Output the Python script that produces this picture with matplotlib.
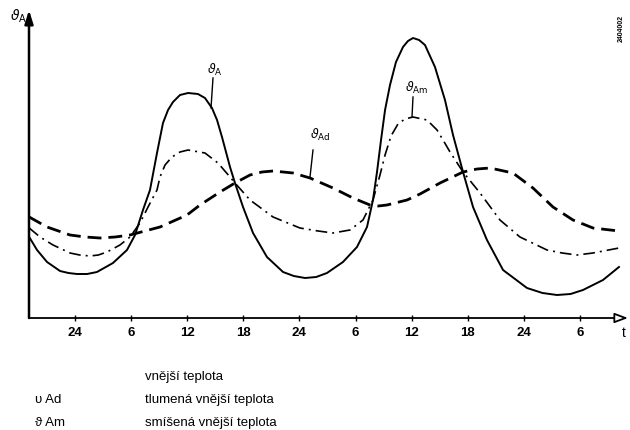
import matplotlib
matplotlib.use("Agg")
import matplotlib.pyplot as plt

plt.rcParams['font.family'] = ['Liberation Sans', 'DejaVu Sans']

# time in hours (0 = first midnight), value = height above time axis
t_A = [-4.9, -4.06, -2.99, -1.60, -0.70, 0.21, 1.30, 2.35, 4.06, 5.56, 6.42, 7.27, 8.02, 8.77,
       9.41, 9.95, 10.48, 11.23, 12.09, 13.15, 13.90, 14.65, 15.19, 15.72, 16.58, 17.11,
       17.97, 19.04, 20.53, 22.25, 23.40, 24.60, 25.80, 26.95, 28.66, 30.16, 31.23, 31.87,
       32.30, 32.73, 33.16, 33.69, 34.33, 35.08, 35.61, 36.15, 36.80, 37.43, 38.50, 39.57,
       40.43, 41.50, 42.57, 44.06, 45.78, 48.34, 50.00, 51.55, 53.00, 54.33, 56.47, 58.18]
v_A = [81, 68, 56, 47, 45, 44, 44, 46, 55, 68, 83, 108, 128, 165,
       195, 208, 216, 223, 225, 224, 220, 210, 198, 181, 151, 135,
       111, 85, 61, 46, 42, 40, 41, 45, 56, 71, 91, 118,
       146, 178, 208, 233, 256, 271, 277, 280, 278, 273, 251, 218,
       183, 146, 111, 78, 48, 30, 25, 23, 24, 28, 38, 51]

t_Am = [-4.9, -3.74, -2.35, -0.53, 0.50, 1.60, 2.50, 3.42, 4.81, 5.88, 6.95, 7.81, 8.77, 9.09,
        9.63, 10.37, 11.23, 12.09, 13.90, 15.29, 16.58, 17.11, 18.72, 21.18, 24.06, 26.00,
        27.59, 29.41, 30.80, 31.87, 32.62, 33.16, 33.80, 34.54, 35.29, 36.15, 37.65, 38.72,
        39.36, 40.11, 41.50, 43.32, 45.45, 47.59, 50.48, 52.10, 53.69, 55.40, 58.18]
v_Am = [90, 81, 73, 65, 63, 62, 63, 66, 73, 81, 95, 111, 128, 141,
        153, 161, 166, 168, 165, 155, 141, 135, 118, 101, 90, 87,
        85, 88, 98, 118, 143, 163, 182, 194, 199, 201, 198, 188,
        178, 166, 146, 125, 98, 81, 68, 65, 63, 65, 70]

t_Ad = [-4.9, -2.99, -0.53, 1.10, 2.67, 4.30, 5.88, 9.09, 11.98, 13.37, 15.51, 17.11, 18.72,
        20.00, 21.18, 23.32, 25.13, 27.59, 29.73, 31.55, 32.45, 33.37, 35.51, 36.90, 39.04,
        41.50, 43.00, 44.39, 46.84, 48.98, 51.12, 53.26, 55.40, 58.18]
v_Ad = [101, 91, 83, 81, 80, 81, 83, 91, 103, 113, 126, 135, 143,
        146, 147, 145, 140, 130, 120, 113, 112, 113, 118, 124, 135,
        146, 149, 150, 145, 130, 111, 98, 90, 87]

tick_pos = [0, 6, 12, 18, 24, 30, 36, 42, 48, 54]
tick_lbl = ['24', '6', '12', '18', '24', '6', '12', '18', '24', '6']

legend_sym = ['', 'υ Ad', 'ϑ Am']
legend_txt = ['vnější teplota', 'tlumená vnější teplota', 'smíšená vnější teplota']

W, H = 630, 430
fig = plt.figure(figsize=(6.3, 4.3), dpi=100)
x0, x1, ytop, yax = 29, 628, 10, 318
ax = fig.add_axes([x0 / W, (H - yax) / H, (x1 - x0) / W, (yax - ytop) / H])
tmin = (x0 - 75) / 9.35
tmax = (x1 - 75) / 9.35
ax.set_xlim(tmin, tmax)
ax.set_ylim(0, yax - ytop)

ax.plot(t_A, v_A, color='black', lw=1.4, solid_joinstyle='round')
ax.plot(t_Am, v_Am, color='black', lw=1.2, dashes=(7, 3, 1.2, 3))
ax.plot(t_Ad, v_Ad, color='black', lw=2.0, dashes=(5, 2.5))

for s in ['top', 'right', 'left', 'bottom']:
    ax.spines[s].set_visible(False)
ax.set_yticks([])
ax.set_xticks(tick_pos)
ax.set_xticklabels(tick_lbl, fontsize=9.5, fontweight='bold')
ax.tick_params(axis='x', direction='inout', length=5, width=1.0, pad=4)

# axes with arrows
ax.annotate('', xy=(1.0, 0), xytext=(0, 0), xycoords='axes fraction',
            arrowprops=dict(arrowstyle='-|>,head_length=0.8,head_width=0.3',
                            lw=1.3, fc='white', ec='black', shrinkA=0, shrinkB=0))
ax.annotate('', xy=(0, 1.0), xytext=(0, 0), xycoords='axes fraction',
            arrowprops=dict(arrowstyle='-|>,head_length=0.8,head_width=0.25',
                            lw=1.8, fc='black', ec='black', shrinkA=0, shrinkB=0))

def px(x, y):
    return x / W, 1 - y / H

fig.text(*px(10, 16), r'$\vartheta_{\mathrm{A}}$', fontsize=10, ha='left', va='center')
fig.text(*px(624, 333), 't', fontsize=10, ha='center', va='center')

# curve labels with leader lines
lbls = [(215, 70, r'$\vartheta_{\mathrm{A}}$', (213, 78), (211, 108)),
        (320, 135, r'$\vartheta_{\mathrm{Ad}}$', (313, 150), (310, 177)),
        (417, 88, r'$\vartheta_{\mathrm{Am}}$', (413, 97), (412, 117))]
for lx, ly, s, p1, p2 in lbls:
    fig.text(*px(lx, ly), s, fontsize=9, ha='center', va='center')
    fig.add_artist(plt.Line2D([p1[0] / W, p2[0] / W], [1 - p1[1] / H, 1 - p2[1] / H],
                              color='black', lw=1.0))

fig.text(*px(621, 28), '2404002', fontsize=5, fontweight='bold', rotation=90,
         ha='center', va='center')

ys = [377, 400, 423]
for sym, txt, y in zip(legend_sym, legend_txt, ys):
    if sym:
        fig.text(*px(35, y), sym, fontsize=9.5, ha='left', va='center')
    fig.text(*px(145, y), txt, fontsize=9.5, ha='left', va='center')

fig.savefig('out.png', dpi=100)
